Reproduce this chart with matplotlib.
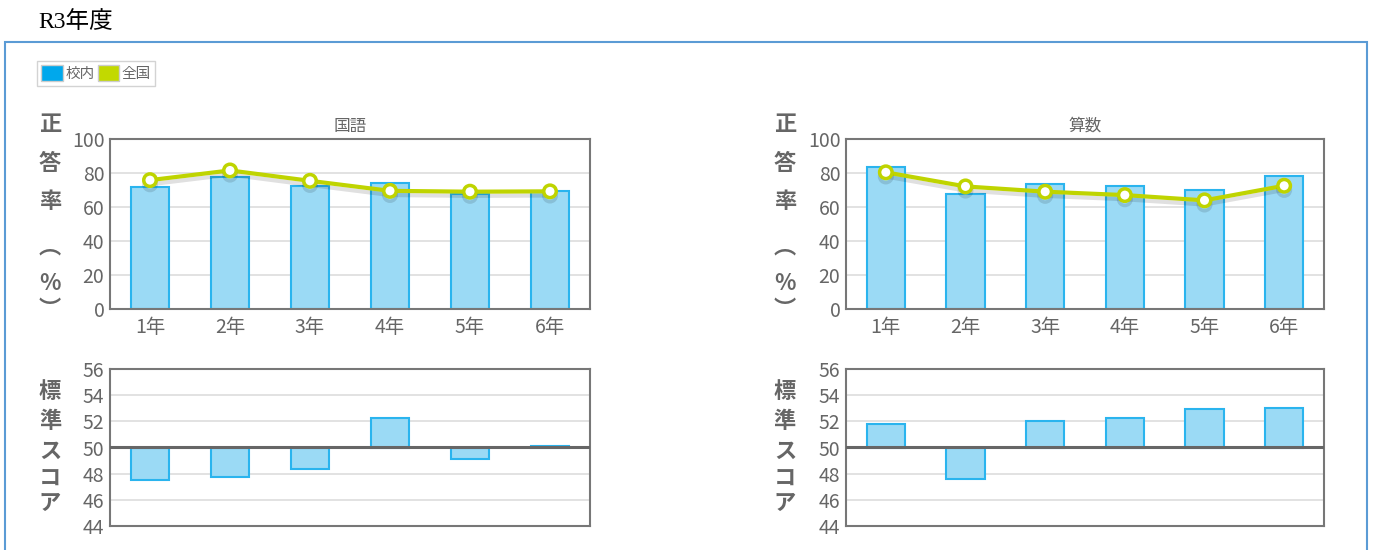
import matplotlib.pyplot as plt
import matplotlib.patheffects as pe
from matplotlib.patches import Patch, Rectangle

plt.rcParams['font.family'] = ['Noto Sans CJK JP', 'DejaVu Sans']

grades = ["1年", "2年", "3年", "4年", "5年", "6年"]

# 正答率 (%)
kokugo_school = [71.5, 77.6, 72.5, 74.3, 67.8, 69.7]
kokugo_national = [75.8, 81.5, 75.4, 69.5, 69.0, 69.2]
sansu_school = [83.3, 67.6, 73.3, 72.3, 69.9, 78.4]
sansu_national = [80.4, 72.1, 69.0, 67.0, 63.9, 72.5]

# 標準スコア
kokugo_score = [47.5, 47.74, 48.36, 52.23, 49.1, 50.1]
sansu_score = [51.82, 47.6, 52.05, 52.26, 52.97, 53.05]

W, H = 1373, 550
BAR_FACE = "#9bdaf5"
BAR_EDGE = "#2ab4ee"
LINE = "#bfd400"
GRID = "#dddddd"
TXT = "#666666"

fig = plt.figure(figsize=(W / 100, H / 100), dpi=100)


def px_axes(x0, y0, x1, y1):
    return fig.add_axes([x0 / W, 1 - y1 / H, (x1 - x0) / W, (y1 - y0) / H])


def style(ax, ticks):
    ax.set_yticks(ticks)
    ax.set_ylim(ticks[0], ticks[-1])
    ax.set_xlim(-0.5, len(grades) - 0.5)
    ax.grid(axis="y", color=GRID, lw=1.2)
    ax.set_axisbelow(True)
    for s in ax.spines.values():
        s.set_color("#777777")
        s.set_linewidth(1.5)
    ax.tick_params(axis="y", length=0, labelsize=14, labelcolor=TXT, pad=4)
    ax.tick_params(axis="x", length=0, labelsize=14, labelcolor=TXT, pad=6)


def rate_chart(x0, x1, title, school, national):
    ax = px_axes(x0, 139, x1, 309)
    xs = range(len(grades))
    ax.bar(xs, school, width=0.48, color=BAR_FACE, edgecolor=BAR_EDGE, lw=1.5)
    ax.plot(xs, national, color=LINE, lw=3, marker="o", ms=9,
            markerfacecolor="white", markeredgecolor=LINE, markeredgewidth=2.5,
            path_effects=[pe.SimpleLineShadow(offset=(0, -3), alpha=0.12),
                          pe.Normal()], zorder=4)
    style(ax, [0, 20, 40, 60, 80, 100])
    ax.set_xticks(list(xs))
    ax.set_xticklabels(grades)
    ax.set_title(title, fontsize=12, color=TXT, pad=6)
    return ax


def score_chart(x0, x1, scores):
    ax = px_axes(x0, 369, x1, 526)
    xs = range(len(grades))
    ax.bar(xs, [v - 50 for v in scores], bottom=50, width=0.48,
           color=BAR_FACE, edgecolor=BAR_EDGE, lw=1.5)
    ax.axhline(50, color="#666666", lw=2.2, zorder=3)
    style(ax, [44, 46, 48, 50, 52, 54, 56])
    ax.set_xticks([])
    return ax


rate_chart(110, 590, "国語", kokugo_school, kokugo_national)
rate_chart(846, 1324, "算数", sansu_school, sansu_national)
score_chart(110, 590, kokugo_score)
score_chart(846, 1324, sansu_score)

# vertical stacked axis titles
for lx in (50, 785):
    for ch, cy in zip(["正", "答", "率", "︵", "%", "︶"], [125, 163, 201, 247, 284, 310]):
        fig.text(lx / W, 1 - cy / H, ch, ha="center", va="center", fontsize=16,
                 fontweight="bold", color=TXT)
    for ch, cy in zip(["標", "準", "ス", "コ", "ア"], [392, 421, 451, 478, 503]):
        fig.text(lx / W, 1 - cy / H, ch, ha="center", va="center", fontsize=16,
                 fontweight="bold", color=TXT)

fig.text(38 / W, 1 - 22 / H, "R3年度", fontsize=17, color="black", va="center",
         family=["Liberation Serif", "Noto Sans CJK JP"])

# outer frame
fig.patches.append(Rectangle((5 / W, -0.05), 1362 / W, 1.05 - 42 / H,
                             transform=fig.transFigure, fill=False,
                             edgecolor="#5b9bd5", lw=1.5))

handles = [Patch(facecolor="#00a8ec", edgecolor="#cccccc", label="校内"),
           Patch(facecolor="#c2d900", edgecolor="#cccccc", label="全国")]
fig.legend(handles=handles, loc="upper left", bbox_to_anchor=(37 / W, 1 - 61 / H),
           ncol=2, fontsize=10.5, frameon=True, fancybox=False, edgecolor="#c8c8c8",
           handlelength=1.5, handleheight=1.3, handletextpad=0.15, columnspacing=0.2,
           borderpad=0.3, borderaxespad=0, labelcolor=TXT)

fig.savefig("out.png", dpi=100)
